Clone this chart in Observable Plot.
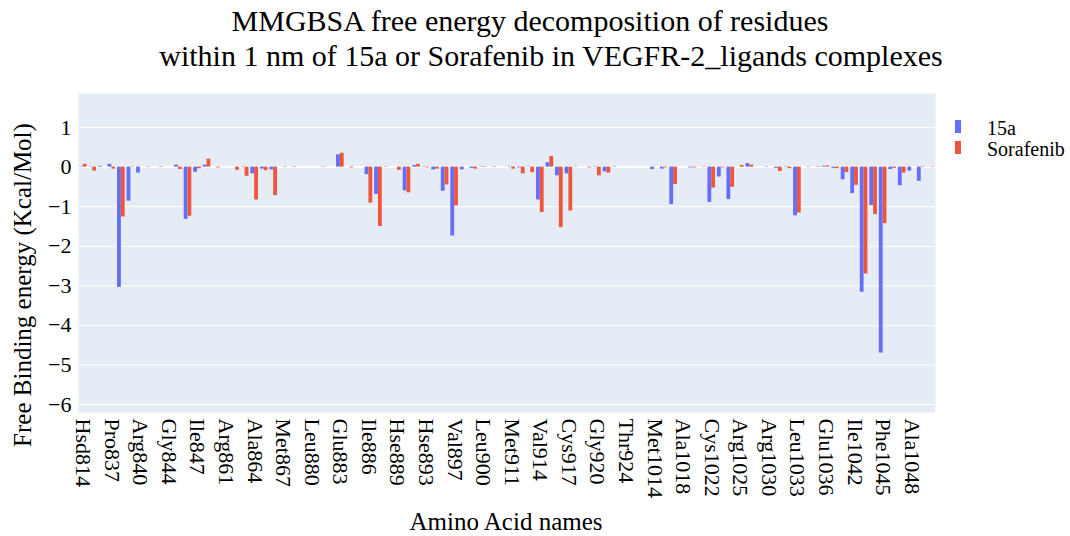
<!DOCTYPE html>
<html><head><meta charset="utf-8">
<script src="https://cdn.jsdelivr.net/npm/d3@7"></script>
<script src="https://cdn.jsdelivr.net/npm/@observablehq/plot@0.6"></script>
<style>
body{margin:0;background:#fff;}
#wrap{position:relative;width:1070px;height:536px;font-family:"Liberation Serif","Times New Roman",serif;color:#000;overflow:hidden;}
.t{position:absolute;white-space:nowrap;line-height:1;font-family:"Liberation Serif","Times New Roman",serif;}
#wrap svg{position:absolute;left:0;top:0;}
</style></head><body><div id="wrap"></div>
<script>
const residues = ["Hsd814","Gly835","Lys836","Pro837","Leu838","Gly839","Arg840","Gly841","Ala842","Gly844",
"Gln845","Val846","Ile847","Glu848","Cys860","Arg861","Thr862","Val863","Ala864","Val865",
"Lys866","Met867","Leu868","Ala879","Leu880","Met881","Ser882","Glu883","Leu884","Lys885",
"Ile886","Leu887","Ile888","Hse889","Ile890","Gly891","Hse893","Asn895","Val896","Val897",
"Asn898","Leu899","Leu900","Pro909","Leu910","Met911","Val912","Ile913","Val914","Glu915",
"Phe916","Cys917","Lys918","Phe919","Gly920","Asn921","Leu922","Thr924","Tyr925","Gly1013",
"Met1014","Phe1016","Leu1017","Ala1018","Arg1020","Lys1021","Cys1022","Ile1023","Hsd1024","Arg1025",
"Asp1026","Leu1027","Arg1030","Asn1031","Ile1032","Leu1033","Leu1034","Ser1035","Glu1036","Val1039",
"Val1040","Ile1042","Cys1043","Asp1044","Phe1045","Gly1046","Leu1047","Ala1048","Arg1049","Asp1050"];
const ligands = ["15a","Sorafenib"];
const dg15a = [0.01,-0.01,0.02,0.07,-3.04,-0.86,-0.15,-0.01,0.00,0.00,
0.05,-1.32,-0.13,0.05,0.00,0.00,0.00,-0.01,-0.17,-0.05,
-0.07,0.00,0.00,0.00,0.00,0.00,0.00,0.31,0.00,0.00,
-0.19,-0.69,0.01,0.00,-0.60,0.04,-0.01,-0.07,-0.61,-1.74,
-0.07,-0.03,-0.01,0.00,0.00,-0.01,-0.02,-0.01,-0.83,0.11,
-0.22,-0.17,0.01,0.00,-0.01,-0.12,-0.01,0.00,0.00,0.00,
-0.06,-0.05,-0.95,0.00,-0.02,0.00,-0.89,-0.25,-0.82,0.00,
0.09,0.00,-0.01,-0.03,-0.01,-1.23,0.00,0.00,0.02,-0.03,
-0.32,-0.67,-3.16,-0.97,-4.70,-0.06,-0.47,-0.10,-0.36,0.00];
const dgSorafenib = [0.07,-0.10,0.00,-0.05,-1.26,-0.01,0.00,0.00,-0.01,0.00,
-0.06,-1.24,-0.04,0.20,-0.02,0.00,-0.08,-0.23,-0.83,-0.09,
-0.72,-0.01,-0.01,0.00,0.00,0.01,0.00,0.35,-0.02,0.00,
-0.91,-1.50,0.00,-0.08,-0.65,0.07,-0.02,-0.05,-0.45,-0.98,
0.00,-0.05,0.01,-0.01,0.00,-0.05,-0.17,-0.14,-1.15,0.27,
-1.53,-1.11,0.00,-0.02,-0.22,-0.15,0.00,0.00,0.00,0.00,
0.00,-0.02,-0.44,0.00,-0.02,-0.01,-0.53,-0.02,-0.51,0.04,
0.05,0.00,0.00,-0.11,-0.04,-1.16,-0.01,0.01,0.03,-0.04,
-0.14,-0.46,-2.70,-1.20,-1.43,-0.03,-0.15,0.00,0.01,0.01];
const tickLabels = ["Hsd814","Pro837","Arg840","Gly844","Ile847","Arg861","Ala864","Met867","Leu880","Glu883",
"Ile886","Hse889","Hse893","Val897","Leu900","Met911","Val914","Cys917","Gly920","Thr924",
"Met1014","Ala1018","Cys1022","Arg1025","Arg1030","Leu1033","Glu1036","Ile1042","Phe1045","Ala1048"];
const yTicks = [-6,-5,-4,-3,-2,-1,0,1];
const colors = ["#636efa","#EF553B"];
const titleLines = ["MMGBSA free energy decomposition of residues","within 1 nm of 15a or Sorafenib in VEGFR-2_ligands complexes"];
const xTitle = "Amino Acid names";
const yTitle = "Free Binding energy (Kcal/Mol)";

const rows = [];
residues.forEach((r, i) => {
  rows.push({i, residue: r, ligand: ligands[0], value: dg15a[i]});
  rows.push({i, residue: r, ligand: ligands[1], value: dgSorafenib[i]});
});
const tickIdx = tickLabels.map(t => residues.indexOf(t));
const half = 0.4;
const font = '"Liberation Serif","Times New Roman",serif';

const chart = Plot.plot({
  width: 1070, height: 536,
  marginLeft: 78, marginRight: 135, marginTop: 93, marginBottom: 124,
  style: {fontFamily: font, fontSize: "22px", color: "#000", background: "transparent", overflow: "visible"},
  x: {type: "linear", domain: [-0.5, residues.length - 0.5], ticks: tickIdx, tickFormat: i => residues[i],
      tickRotate: 90, tickSize: 0, tickPadding: 6, label: null},
  y: {domain: [-6.2, 1.86], ticks: yTicks, tickSize: 0, tickPadding: 7, label: null},
  color: {domain: ligands, range: colors},
  marks: [
    Plot.frame({fill: "#E5ECF6", stroke: null}),
    Plot.ruleY(yTicks, {stroke: "#fff", strokeOpacity: 1, strokeWidth: 1}),
    Plot.ruleY([0], {stroke: "#fff", strokeOpacity: 1, strokeWidth: 2}),
    Plot.rectY(rows, {
      x1: d => d.i + (d.ligand === ligands[0] ? -half : 0),
      x2: d => d.i + (d.ligand === ligands[0] ? 0 : half),
      y1: 0, y2: "value", fill: "ligand"
    })
  ]
});
const wrap = document.getElementById("wrap");
wrap.appendChild(chart);

function addText(txt, css) {
  const d = document.createElement("div");
  d.className = "t";
  d.textContent = txt;
  d.style.fontFamily = font;
  Object.assign(d.style, css);
  wrap.appendChild(d);
  return d;
}
addText(titleLines[0], {left: "530px", top: "6px", fontSize: "30px", transform: "translateX(-50%)"});
addText(titleLines[1], {left: "551px", top: "41px", fontSize: "30px", transform: "translateX(-50%)"});
addText(xTitle, {left: "506px", top: "509px", fontSize: "25px", transform: "translateX(-50%)"});
addText(yTitle, {left: "22px", top: "285px", fontSize: "25px", transform: "translate(-50%,-50%) rotate(-90deg)"});

// legend
ligands.forEach((lg, k) => {
  const sw = document.createElement("div");
  Object.assign(sw.style, {position: "absolute", left: "955px", top: (120 + k * 21) + "px", width: "6px", height: "13px", background: colors[k]});
  wrap.appendChild(sw);
  addText(lg, {left: "987px", top: (118 + k * 21) + "px", fontSize: "20px"});
});
</script></body></html>
